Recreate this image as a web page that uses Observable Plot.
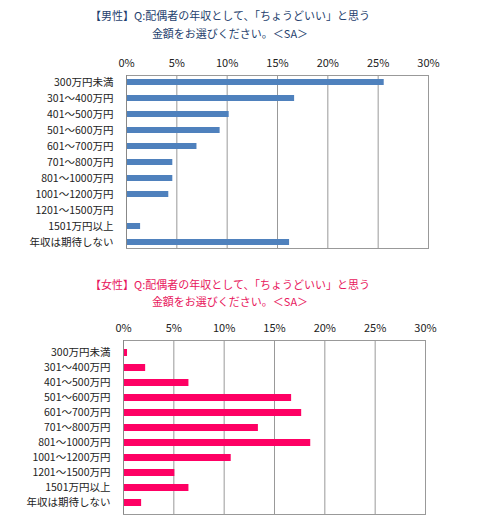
<!DOCTYPE html>
<html>
<head>
<meta charset="utf-8">
<script src="https://cdn.jsdelivr.net/npm/d3@7"></script>
<script src="https://cdn.jsdelivr.net/npm/@observablehq/plot@0.6"></script>
<style>
  body { margin: 0; background: white; font-family: "Noto Sans CJK JP", sans-serif; }
  #wrap { position: relative; width: 478px; height: 530px; }
  .title { position: absolute; left: 0; width: 460px; text-align: center; font-size: 11px; line-height: 18px; }
  .chart { position: absolute; left: 0; }
</style>
</head>
<body>
<div id="wrap">
  <div class="title" style="top:6px; color:#1f3f6e">【男性】Q:配偶者の年収として、「ちょうどいい」と思う<br>金額をお選びください。＜SA＞</div>
  <div class="chart" id="men" style="top:45px"></div>
  <div class="title" style="top:276px; color:#e8175d; line-height:17px">【女性】Q:配偶者の年収として、「ちょうどいい」と思う<br>金額をお選びください。＜SA＞</div>
  <div class="chart" id="women" style="top:310px"></div>
</div>
<script>
const categories = ['300万円未満', '301〜400万円', '401〜500万円', '501〜600万円', '601〜700万円',
  '701〜800万円', '801〜1000万円', '1001〜1200万円', '1201〜1500万円', '1501万円以上', '年収は期待しない']
const menValues = [25.6, 16.7, 10.2, 9.3, 7.0, 4.6, 4.6, 4.2, 0, 1.4, 16.2]
const womenValues = [0.4, 2.2, 6.5, 16.7, 17.7, 13.4, 18.6, 10.7, 5.1, 6.5, 1.8]
const ticks = [0, 5, 10, 15, 20, 25, 30]

function chart(values, color, opts) {
  const data = categories.map((c, i) => ({category: c, value: values[i]}))
  return Plot.plot({
    width: 478,
    height: opts.height,
    marginTop: 30,
    marginBottom: opts.marginBottom,
    marginLeft: opts.marginLeft,
    marginRight: opts.marginRight,
    style: {fontFamily: '"Noto Sans CJK JP", sans-serif', fontSize: 11, color: '#222', background: 'white'},
    x: {domain: [0, 30], ticks: ticks, tickFormat: d => d + '%', label: null},
    y: {domain: categories, paddingInner: opts.paddingInner, paddingOuter: opts.paddingOuter, label: null},
    marks: [
      Plot.gridX(ticks, {stroke: '#999', strokeOpacity: 1}),
      Plot.barX(data, {x: 'value', y: 'category', fill: color}),
      Plot.frame({stroke: '#999'}),
      Plot.ruleX([0], {stroke: '#888'}),
      Plot.axisX({anchor: 'top', ticks: ticks, tickFormat: d => d + '%', tickSize: 0, tickPadding: 9, label: null}),
      Plot.axisY({tickSize: 0, tickPadding: 13, label: null, fontSize: 10.5})
    ]
  })
}

d3.select('#men').append(() => chart(menValues, '#4f81bd',
  {height: 208, marginBottom: 5, marginLeft: 126, marginRight: 50, paddingInner: 0.63, paddingOuter: 0.22}))
d3.select('#women').append(() => chart(womenValues, '#fe0064',
  {height: 210, marginBottom: 6, marginLeft: 123, marginRight: 53, paddingInner: 0.56, paddingOuter: 0.28}))
</script>
</body>
</html>
